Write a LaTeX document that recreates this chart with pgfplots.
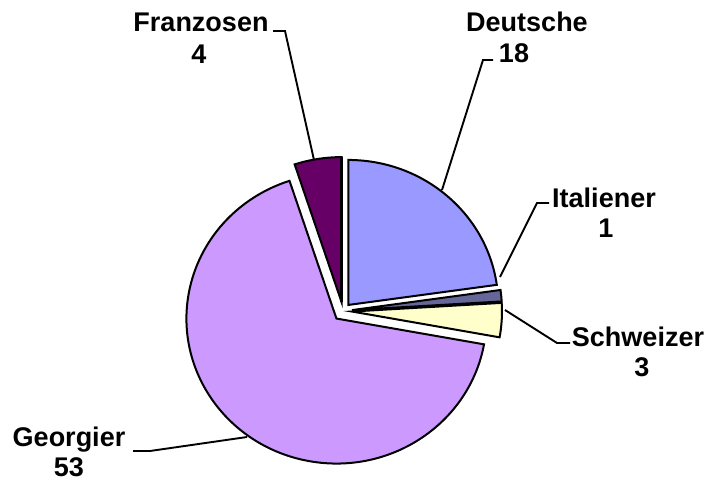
\documentclass[border=0pt]{standalone}
\usepackage{pgfplots}
\usepackage{pgfplotstable}
\pgfplotsset{compat=1.18}
\usepackage{fontspec}
\setmainfont{Liberation Sans}
\definecolor{cDeu}{HTML}{9999FF}
\definecolor{cIta}{HTML}{666699}
\definecolor{cSch}{HTML}{FFFFCC}
\definecolor{cGeo}{HTML}{CC99FF}
\definecolor{cFra}{HTML}{660066}
\pgfplotstableread{
name value
Deutsche 18
Italiener 1
Schweizer 3
Georgier 53
Franzosen 4
}\piedata
\def\total{79}
\def\cx{343}\def\cy{171}\def\rx{150}\def\ry{145}
% slice: index, colour, explode distance
\newcommand\slice[3]{%
  \edef\sA{\csname sa#1\endcsname}\edef\eA{\csname ea#1\endcsname}%
  \pgfmathsetmacro\mA{(\sA+\eA)/2}%
  \edef\cmd{\noexpand\filldraw[fill=#2,draw=black,line width=2pt,line join=miter]
    ([shift={(\mA:#3)}]axis cs:\cx,\cy) -- ++(\sA:\rx pt and \ry pt)
    arc[start angle=\sA,end angle=\eA,x radius=\rx pt,y radius=\ry pt] -- cycle;}%
  \cmd
}
\begin{document}
\begin{tikzpicture}
\xdef\cum{0}
\foreach \i in {0,...,4}{
  \pgfplotstablegetelem{\i}{value}\of\piedata
  \let\v\pgfplotsretval
  \pgfmathsetmacro\s{90-\cum/\total*360}
  \pgfmathsetmacro\e{90-(\cum+\v)/\total*360}
  \expandafter\xdef\csname sa\i\endcsname{\s}
  \expandafter\xdef\csname ea\i\endcsname{\e}
  \pgfmathsetmacro\c{\cum+\v}
  \xdef\cum{\c}
}
\begin{axis}[
  scale only axis, width=710pt, height=482pt,
  xmin=0, xmax=710, ymin=0, ymax=482,
  hide axis, clip=false,
]
\addplot[draw=none] coordinates {(0,0) (710,482)};
\slice{0}{cDeu}{8pt}
\slice{1}{cIta}{9pt}
\slice{2}{cSch}{9pt}
\slice{3}{cGeo}{10pt}
\slice{4}{cFra}{9pt}
% dark edge of Franzosen slice
\draw[line width=3.5pt] ([shift={(99:9pt)}]axis cs:\cx,\cy) -- ++(90:\ry pt);
% leader lines
\draw[line width=1.9pt] (axis cs:273,451) -- (axis cs:285,451) -- (axis cs:314,322);
\draw[line width=1.9pt] (axis cs:493,422) -- (axis cs:483,422) -- (axis cs:442,292);
\draw[line width=1.9pt] (axis cs:500,205) -- (axis cs:537,279) -- (axis cs:549,279);
\draw[line width=1.9pt] (axis cs:505,172) -- (axis cs:557,139) -- (axis cs:570,139);
\draw[line width=1.9pt] (axis cs:247,45) -- (axis cs:150,31) -- (axis cs:133,31);
% labels
\begin{scope}[every node/.style={font=\fontsize{27}{30}\selectfont\bfseries, inner sep=0pt}]
\node at (axis cs:201,460) {Franzosen};
\node at (axis cs:199,428) {4};
\node at (axis cs:527,460) {Deutsche};
\node at (axis cs:514,429) {18};
\node at (axis cs:604,284) {Italiener};
\node at (axis cs:606,254) {1};
\node at (axis cs:638,145) {Schweizer};
\node at (axis cs:642,115) {3};
\node at (axis cs:69,42) {Georgier};
\node at (axis cs:69,15) {53};
\end{scope}
\end{axis}
\end{tikzpicture}
\end{document}
